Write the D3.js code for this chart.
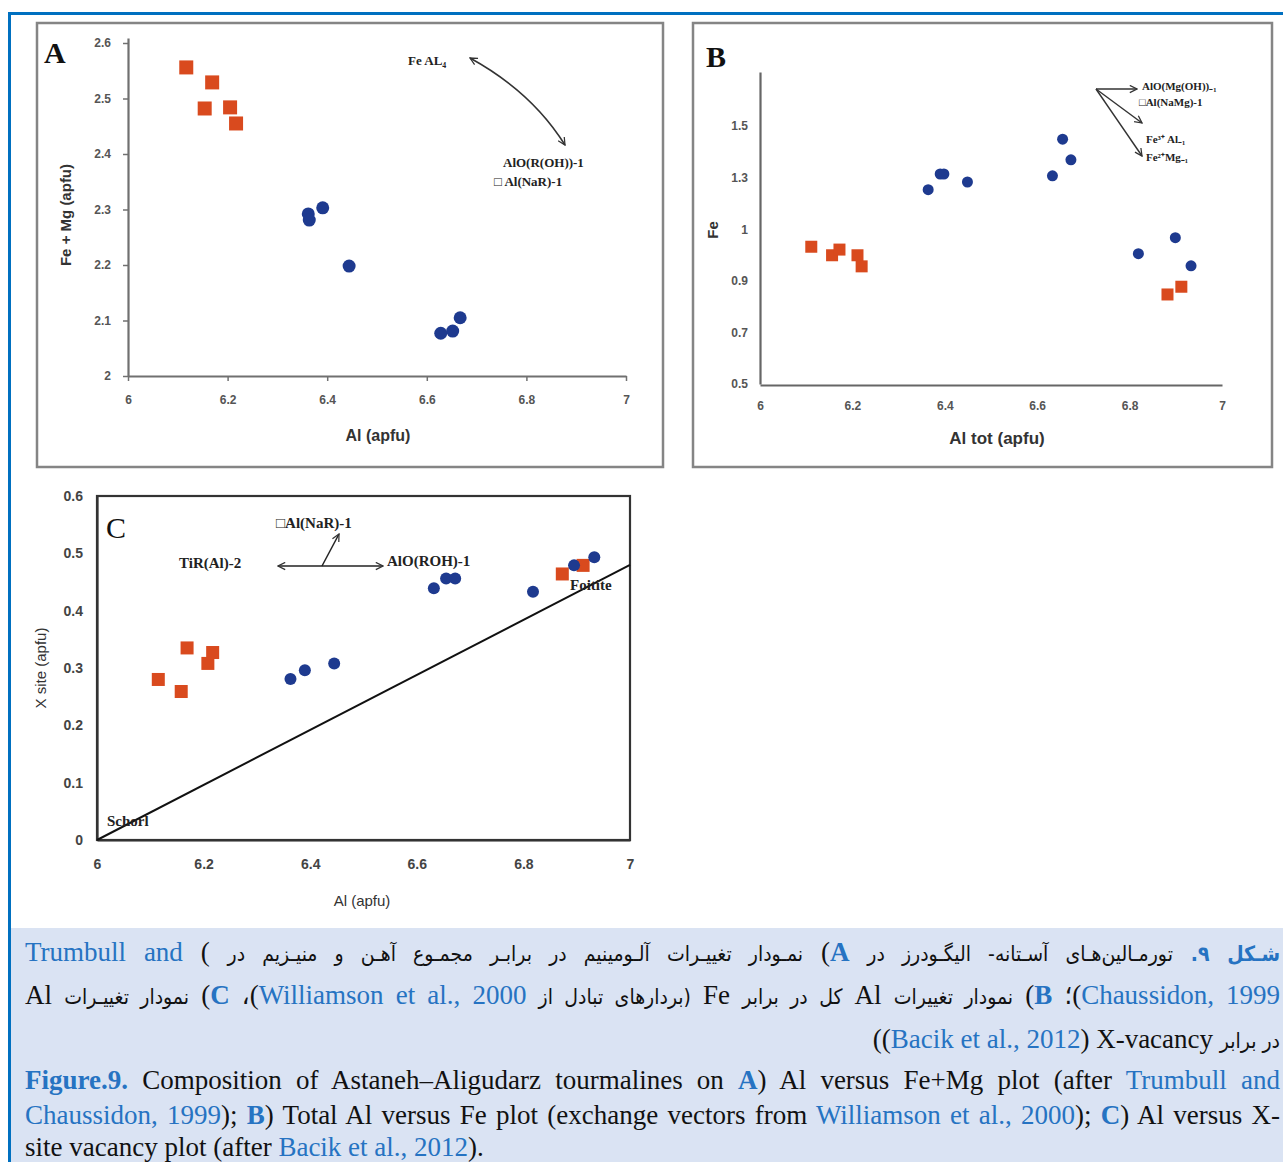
<!DOCTYPE html>
<html>
<head>
<meta charset="utf-8">
<script src="https://d3js.org/d3.v7.min.js"></script>
<style>
  body { margin: 0; background: #fff; }
  #page { position: relative; width: 1283px; height: 1162px; overflow: hidden; }
  #page svg { position: absolute; left: 0; top: 0; }
  .cap { position: absolute; left: 25px; width: 1255px;
         font-family: "Liberation Serif", "DejaVu Sans Condensed", serif; font-size: 27px; line-height: 34px; color: #111; }
  .en { line-height: 30px; }
  .just { text-align: justify; text-align-last: justify; }
  .right { text-align: right; }
  .fa { direction: rtl; }
  .pr { font-family: "DejaVu Sans Condensed", "DejaVu Sans", sans-serif; font-size: 21px; }
  .blue { color: #2673C2; }
</style>
</head>
<body>
<div id="page"></div>
<script>

// shared x ticks (Al apfu)
var xTicks = [6, 6.2, 6.4, 6.6, 6.8, 7];

// Panel A : Al vs Fe+Mg
var aYTicks = [2, 2.1, 2.2, 2.3, 2.4, 2.5, 2.6];
var aRedAl = [6.117, 6.169, 6.154, 6.205, 6.217];
var aRedFeMg = [2.556, 2.529, 2.482, 2.484, 2.455];
var aBlueAl = [6.362, 6.364, 6.391, 6.444, 6.628, 6.652, 6.667];
var aBlueFeMg = [2.292, 2.281, 2.303, 2.198, 2.077, 2.081, 2.105];

// Panel B : Al tot vs Fe
var bYTicks = [0.5, 0.7, 0.9, 1.1, 1.3, 1.5];
var bYLabels = ["0.5", "0.7", "0.9", "1", "1.3", "1.5"];
var bRedAl = [6.111, 6.156, 6.172, 6.211, 6.220, 6.882, 6.912];
var bRedFe = [1.032, 0.999, 1.021, 0.999, 0.956, 0.847, 0.877];
var bBlueAl = [6.364, 6.390, 6.398, 6.449, 6.633, 6.655, 6.673, 6.819, 6.899, 6.933];
var bBlueFe = [1.253, 1.314, 1.314, 1.283, 1.307, 1.449, 1.369, 1.005, 1.067, 0.958];

// Panel C : Al vs X-site vacancy
var cYTicks = [0, 0.1, 0.2, 0.3, 0.4, 0.5, 0.6];
var cRedAl = [6.115, 6.158, 6.169, 6.208, 6.217, 6.873, 6.912];
var cRedX = [0.280, 0.259, 0.335, 0.308, 0.327, 0.464, 0.479];
var cBlueAl = [6.363, 6.390, 6.445, 6.632, 6.655, 6.672, 6.818, 6.895, 6.933];
var cBlueX = [0.281, 0.296, 0.308, 0.439, 0.456, 0.456, 0.433, 0.479, 0.493];
var cLineAl = [6, 7];
var cLineX = [0, 0.48];

// caption lines (Persian lines 1-2 right-to-left, line 3 laid out in visual order)
var faLines = [
  '<b class="blue pr">شـکل ۹.</b> <span class="pr">تورمـالین‌هـای آسـتانه- الیگـودرز در</span> <b class="blue">A</b>) <span class="pr">نمـودار تغییـرات آلـومینیم در برابـر مجمـوع آهـن و منیـزیم در</span> ) <span class="blue">Trumbull and</span>',
  '<span class="blue">Chaussidon, 1999</span>)؛ <b class="blue">B</b>) <span class="pr">نمودار تغییرات</span> Al <span class="pr">کل در برابر</span> Fe <span class="pr">(بردارهای تبادل از</span> <span class="blue">Williamson et al., 2000</span>)، <b class="blue">C</b>) <span class="pr">نمودار تغییـرات</span> Al',
  '((<span class="blue">Bacik et al., 2012</span>) X-vacancy <span class="pr" dir="rtl">در برابر</span>'
];
var enLines = [
  '<b class="blue">Figure.9.</b> Composition of Astaneh–Aligudarz tourmalines on <b class="blue">A</b>) Al versus Fe+Mg plot (after <span class="blue">Trumbull and</span>',
  '<span class="blue">Chaussidon, 1999</span>); <b class="blue">B</b>) Total Al versus Fe plot (exchange vectors from <span class="blue">Williamson et al., 2000</span>); <b class="blue">C</b>) Al versus X-',
  'site vacancy plot (after <span class="blue">Bacik et al., 2012</span>).'
];

var red = "#D94A1E", blue = "#1E3A8F";

var svg = d3.select("#page").append("svg")
    .attr("width", 1283)
    .attr("height", 1162);

// arrow head marker
svg.append("defs").append("marker")
    .attr("id", "arr")
    .attr("viewBox", "0 0 10 10")
    .attr("refX", 9).attr("refY", 5)
    .attr("markerWidth", 9).attr("markerHeight", 9)
    .attr("markerUnits", "userSpaceOnUse")
    .attr("orient", "auto-start-reverse")
  .append("path")
    .attr("d", "M1,1 L9,5 L1,9")
    .attr("fill", "none")
    .attr("stroke", "#333")
    .attr("stroke-width", 1.4);

// page frame + caption background
svg.append("rect").attr("x", 11).attr("y", 928).attr("width", 1272).attr("height", 234).attr("fill", "#DAE3F3");
svg.append("line").attr("x1", 8).attr("x2", 1283).attr("y1", 13.5).attr("y2", 13.5).attr("stroke", "#0070C0").attr("stroke-width", 3);
svg.append("line").attr("x1", 9.5).attr("x2", 9.5).attr("y1", 12).attr("y2", 1162).attr("stroke", "#0070C0").attr("stroke-width", 3);

// panel frames
svg.append("rect").attr("x", 37).attr("y", 23).attr("width", 626).attr("height", 444)
    .attr("fill", "none").attr("stroke", "#858585").attr("stroke-width", 2.5);
svg.append("rect").attr("x", 693).attr("y", 23).attr("width", 579).attr("height", 444)
    .attr("fill", "none").attr("stroke", "#858585").attr("stroke-width", 2.5);

function styleAxis(g, size, weight, color, lineColor) {
  g.select(".domain").attr("stroke", lineColor).attr("stroke-width", 2.2);
  g.selectAll(".tick line").attr("stroke", lineColor).attr("stroke-width", 1.5);
  g.selectAll(".tick text")
      .attr("font-family", "Liberation Sans, Arial, sans-serif")
      .attr("font-size", size)
      .attr("font-weight", weight)
      .attr("fill", color);
}

function squares(xs, ys, x, y, s) {
  svg.append("g").selectAll("rect")
    .data(xs)
    .join("rect")
      .attr("x", function (d) { return x(d) - s / 2; })
      .attr("y", function (d, i) { return y(ys[i]) - s / 2; })
      .attr("width", s)
      .attr("height", s)
      .attr("fill", red);
}

function dots(xs, ys, x, y, r) {
  svg.append("g").selectAll("circle")
    .data(xs)
    .join("circle")
      .attr("cx", function (d) { return x(d); })
      .attr("cy", function (d, i) { return y(ys[i]); })
      .attr("r", r)
      .attr("fill", blue);
}

function label(x, y, txt, opts) {
  var t = svg.append("text")
      .attr("x", x).attr("y", y)
      .attr("text-anchor", opts.anchor || "middle")
      .attr("dominant-baseline", "central")
      .attr("font-family", opts.family || "Liberation Sans, Arial, sans-serif")
      .attr("font-size", opts.size || 14)
      .attr("font-weight", opts.weight || "normal")
      .attr("fill", opts.fill || "#222")
      .text(txt);
  if (opts.rotate) t.attr("transform", "rotate(-90," + x + "," + y + ")");
  return t;
}

var serifB = {family: "Liberation Serif, serif", weight: "bold", size: 13, anchor: "start", fill: "#222"};

// ---------------- Panel A ----------------
var xA = d3.scaleLinear().domain([6, 7]).range([128, 626]);
var yA = d3.scaleLinear().domain([2, 2.6]).range([376, 43]);

svg.append("g")
    .attr("transform", "translate(0,376)")
    .call(d3.axisBottom(xA).tickValues(xTicks).tickSize(5).tickSizeOuter(0).tickPadding(14)
      .tickFormat(function (d) { return String(d); }))
    .call(styleAxis, 12, "bold", "#555", "#707070");
svg.append("g")
    .attr("transform", "translate(128,0)")
    .call(d3.axisLeft(yA.copy().domain([2, yA.invert(38)]).range([376, 38])).tickValues(aYTicks).tickSize(5).tickSizeOuter(0).tickPadding(12)
      .tickFormat(function (d) { return String(d); }))
    .call(styleAxis, 12, "bold", "#555", "#707070");

squares(aRedAl, aRedFeMg, xA, yA, 14);
dots(aBlueAl, aBlueFeMg, xA, yA, 6.5);

label(378, 435, "Al (apfu)", {size: 16, weight: "bold", fill: "#333"});
label(65, 215, "Fe + Mg (apfu)", {size: 15, weight: "bold", fill: "#333", rotate: true});
label(44, 52, "A", {family: "Liberation Serif, serif", size: 30, weight: "bold", anchor: "start", fill: "#111"});

label(408, 60, "Fe AL\u2084", serifB);
svg.append("path")
    .attr("d", "M470,58 Q532,92 565,145")
    .attr("fill", "none").attr("stroke", "#333").attr("stroke-width", 1.6)
    .attr("marker-start", "url(#arr)").attr("marker-end", "url(#arr)");
label(503, 162, "AlO(R(OH))-1", serifB);
label(494, 181, "\u25A1 Al(NaR)-1", serifB);

// ---------------- Panel B ----------------
var xB = d3.scaleLinear().domain([6, 7]).range([760, 1222]);
var yB = d3.scaleLinear().domain([0.5, 1.5]).range([384, 126]);

svg.append("g")
    .attr("transform", "translate(0,385)")
    .call(d3.axisBottom(xB).tickValues(xTicks).tickSize(0).tickPadding(16)
      .tickFormat(function (d) { return String(d); }))
    .call(styleAxis, 12, "bold", "#555", "#666");
svg.append("g")
    .attr("transform", "translate(760,0)")
    .call(d3.axisLeft(yB.copy().domain([0.5, yB.invert(72)]).range([384, 72])).tickValues(bYTicks).tickSize(0).tickPadding(12)
      .tickFormat(function (d, i) { return bYLabels[i]; }))
    .call(styleAxis, 12, "bold", "#555", "#666");

squares(bRedAl, bRedFe, xB, yB, 12);
dots(bBlueAl, bBlueFe, xB, yB, 5.5);

label(997, 438, "Al tot (apfu)", {size: 17, weight: "bold", fill: "#333"});
label(712, 230, "Fe", {size: 15, weight: "bold", fill: "#333", rotate: true});
label(706, 56, "B", {family: "Liberation Serif, serif", size: 30, weight: "bold", anchor: "start", fill: "#111"});

var serifS = {family: "Liberation Serif, serif", weight: "bold", size: 11, anchor: "start", fill: "#222"};
svg.append("path").attr("d", "M1096,89 L1137,89")
    .attr("fill", "none").attr("stroke", "#333").attr("stroke-width", 1.4).attr("marker-end", "url(#arr)");
svg.append("path").attr("d", "M1096,89 L1142,123")
    .attr("fill", "none").attr("stroke", "#333").attr("stroke-width", 1.4).attr("marker-end", "url(#arr)");
svg.append("path").attr("d", "M1096,89 L1142,156")
    .attr("fill", "none").attr("stroke", "#333").attr("stroke-width", 1.4).attr("marker-end", "url(#arr)");
label(1142, 86, "AlO(Mg(OH))\u208B\u2081", serifS);
label(1139, 102, "\u25A1Al(NaMg)-1", serifS);
label(1146, 139, "Fe\u00B3\u207A Al\u208B\u2081", serifS);
label(1146, 157, "Fe\u00B2\u207AMg\u208B\u2081", serifS);

// ---------------- Panel C ----------------
var xC = d3.scaleLinear().domain([6, 7]).range([97, 630]);
var yC = d3.scaleLinear().domain([0, 0.6]).range([840, 496]);

svg.append("g")
    .attr("transform", "translate(0,840)")
    .call(d3.axisBottom(xC).tickValues(xTicks).tickSize(0).tickPadding(19)
      .tickFormat(function (d) { return String(d); }))
    .call(styleAxis, 14, "bold", "#444", "#333");
svg.append("g")
    .attr("transform", "translate(97,0)")
    .call(d3.axisLeft(yC).tickValues(cYTicks).tickSize(0).tickPadding(14)
      .tickFormat(function (d) { return String(d); }))
    .call(styleAxis, 14, "bold", "#444", "#333");
svg.append("rect")
    .attr("x", xC(6)).attr("y", yC(0.6))
    .attr("width", xC(7) - xC(6)).attr("height", yC(0) - yC(0.6))
    .attr("fill", "none").attr("stroke", "#333").attr("stroke-width", 2.2);

svg.append("path")
    .datum(cLineAl)
    .attr("d", d3.line()
      .x(function (d) { return xC(d); })
      .y(function (d, i) { return yC(cLineX[i]); }))
    .attr("fill", "none").attr("stroke", "#111").attr("stroke-width", 2);

squares(cRedAl, cRedX, xC, yC, 13);
dots(cBlueAl, cBlueX, xC, yC, 6);

label(362, 900, "Al (apfu)", {size: 15, fill: "#333"});
label(40, 668, "X site (apfu)", {size: 15, fill: "#333", rotate: true});
label(106, 527, "C", {family: "Liberation Serif, serif", size: 30, weight: "normal", anchor: "start", fill: "#111"});

var serifC = {family: "Liberation Serif, serif", weight: "bold", size: 15, anchor: "start", fill: "#222"};
label(276, 523, "\u25A1Al(NaR)-1", serifC);
label(179, 563, "TiR(Al)-2", serifC);
label(387, 561, "AlO(ROH)-1", serifC);
label(570, 585, "Foitite", serifC);
label(107, 821, "Schorl", serifC);
svg.append("path").attr("d", "M278,566 L383,566")
    .attr("fill", "none").attr("stroke", "#222").attr("stroke-width", 1.5)
    .attr("marker-start", "url(#arr)").attr("marker-end", "url(#arr)");
svg.append("path").attr("d", "M322,566 L339,534")
    .attr("fill", "none").attr("stroke", "#222").attr("stroke-width", 1.5)
    .attr("marker-end", "url(#arr)");

// ---------------- caption ----------------
var page = d3.select("#page");
var faTops = [935, 978, 1022];
var enTops = [1065, 1100, 1132];
faLines.forEach(function (h, i) {
  page.append("div")
      .attr("class", "cap" + (i < 2 ? " fa just" : " right"))
      .style("top", faTops[i] + "px")
      .html(h);
});
enLines.forEach(function (h, i) {
  page.append("div")
      .attr("class", "cap en" + (i < 2 ? " just" : ""))
      .style("top", enTops[i] + "px")
      .html(h);
});

</script>
</body>
</html>
